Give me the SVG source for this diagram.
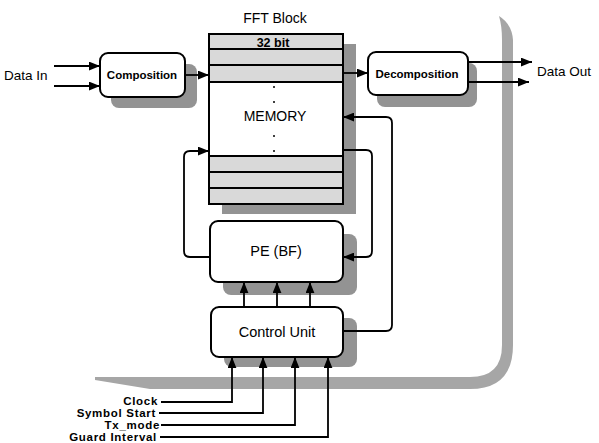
<svg xmlns="http://www.w3.org/2000/svg" width="599" height="443" viewBox="0 0 599 443">
<style>
.box{fill:#fff;stroke:#000;stroke-width:2}
.shadow{fill:#939393}
.row{fill:#d9d9d9;stroke:#000;stroke-width:2}
.line{fill:none;stroke:#000;stroke-width:1.8}
.t{font-family:"Liberation Sans",Arial,sans-serif;fill:#000}
.b{font-weight:bold}
</style>
<defs>
<marker id="ah" viewBox="0 0 10 8" refX="10" refY="4" markerWidth="11" markerHeight="9" markerUnits="userSpaceOnUse" orient="auto">
<path d="M0,0 L10,4 L0,8 Z" fill="#000"/>
</marker>
</defs>
<rect width="599" height="443" fill="#fff"/>
<g id="border">
<path d="M499 16 Q512 24 513 40 L513 345 Q513 389 470 389 L150 389 L95 380 L95 377 L470 377 Q502 377 502 345 L502 40 Q502 26 499 16 Z" fill="#a6a6a6"/>
</g>
<g id="memory">
<rect class="shadow" x="222" y="44" width="134" height="170"/>
<rect x="209" y="34" width="134" height="170" fill="#fff" stroke="#000" stroke-width="2"/>
<rect class="row" x="209" y="34" width="134" height="15"/>
<rect class="row" x="209" y="49" width="134" height="16"/>
<rect class="row" x="209" y="65" width="134" height="17"/>
<rect class="row" x="209" y="156" width="134" height="16"/>
<rect class="row" x="209" y="172" width="134" height="16"/>
<rect class="row" x="209" y="188" width="134" height="16"/>
<text class="t b" x="273" y="47" font-size="12.5" text-anchor="middle">32 bit</text>
<text class="t" x="275" y="23" font-size="14" text-anchor="middle">FFT Block</text>
<text class="t" x="275" y="121" font-size="14" text-anchor="middle">MEMORY</text>
<g fill="#000">
<circle cx="274" cy="87" r="1"/><circle cx="274" cy="102" r="1"/>
<circle cx="274" cy="136" r="1"/><circle cx="274" cy="151" r="1"/>
</g>
</g>
<g id="composition">
<rect class="shadow" x="111" y="64" width="86" height="44" rx="8"/>
<rect class="box" x="100" y="53" width="85" height="44" rx="8"/>
<text class="t b" x="142" y="79" font-size="11.5" text-anchor="middle">Composition</text>
</g>
<g id="decomposition">
<rect class="shadow" x="377" y="63" width="100" height="44" rx="8"/>
<rect class="box" x="368" y="52" width="100" height="43" rx="8"/>
<text class="t b" x="417" y="78" font-size="11.5" text-anchor="middle">Decomposition</text>
</g>
<g id="pe">
<rect class="shadow" x="223" y="234" width="134" height="61" rx="8"/>
<rect class="box" x="210" y="221" width="133" height="61" rx="8"/>
<text class="t" x="276" y="256" font-size="14.5" text-anchor="middle">PE (BF)</text>
</g>
<g id="control">
<rect class="shadow" x="224" y="318" width="133" height="49" rx="8"/>
<rect class="box" x="211" y="307" width="132" height="50" rx="8"/>
<text class="t" x="277" y="337" font-size="14.5" text-anchor="middle">Control Unit</text>
</g>
<g id="labels">
<text class="t" x="4" y="80" font-size="13.5">Data In</text>
<text class="t" x="537" y="76" font-size="13.5">Data Out</text>
<g class="t b" font-size="11.5" letter-spacing="0.7" text-anchor="end">
<text x="158" y="405">Clock</text>
<text x="156" y="417">Symbol Start</text>
<text x="160" y="429">Tx_mode</text>
<text x="157" y="441">Guard Interval</text>
</g>
</g>
<g id="connectors">
<path class="line" d="M54 66 L100 66" marker-end="url(#ah)"/>
<path class="line" d="M54 86 L100 86" marker-end="url(#ah)"/>
<path class="line" d="M185 75 L209 75" marker-end="url(#ah)"/>
<path class="line" d="M343 73 L368 73" marker-end="url(#ah)"/>
<path class="line" d="M468 62 L532 62" marker-end="url(#ah)"/>
<path class="line" d="M468 82 L529 82" marker-end="url(#ah)"/>
<path class="line" d="M210 257 L190 257 Q184 257 184 251 L184 157 Q184 151 190 151 L209 151" marker-end="url(#ah)"/>
<path class="line" d="M343 150 L366 150 Q372 150 372 156 L372 251 Q372 257 366 257 L343 257" marker-end="url(#ah)"/>
<path class="line" d="M343 331 L386 331 Q392 331 392 325 L392 123 Q392 117 386 117 L343 117" marker-end="url(#ah)"/>
<path class="line" d="M244 307 L244 282" marker-end="url(#ah)"/>
<path class="line" d="M277 307 L277 282" marker-end="url(#ah)"/>
<path class="line" d="M310 307 L310 282" marker-end="url(#ah)"/>
<path class="line" d="M161 402 L232 402 L232 357" marker-end="url(#ah)"/>
<path class="line" d="M159 413 L263 413 L263 357" marker-end="url(#ah)"/>
<path class="line" d="M161 425 L295 425 L295 357" marker-end="url(#ah)"/>
<path class="line" d="M160 437 L328 437 L328 357" marker-end="url(#ah)"/>
</g>
</svg>
